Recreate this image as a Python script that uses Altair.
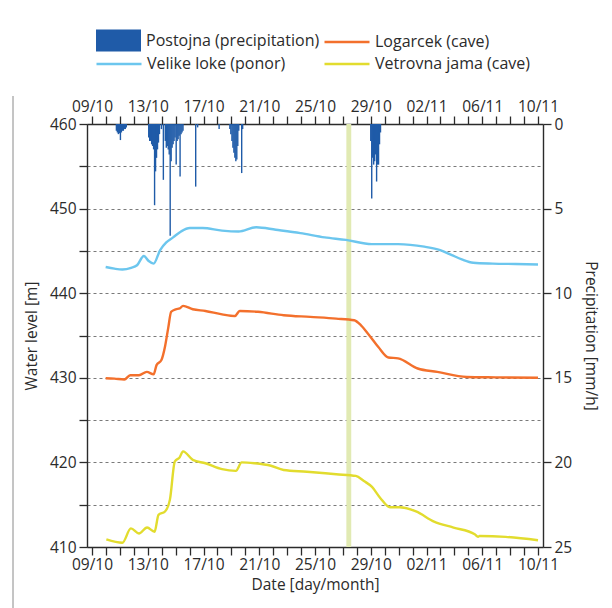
import altair as alt
import pandas as pd

START = "2014-10-09"

# ---- Velike loke (ponor): days since 09/10 00:00 -> water level [m]
vel_days = [0.98, 1.61, 2.18, 2.81, 3.23, 3.72, 4.07, 4.42, 4.89, 5.33, 5.82, 6.39, 7.02, 7.93,
            9.33, 10.51, 11.79, 13.19, 14.95, 16.70, 18.22, 20.07, 21.96, 23.84, 24.98, 25.82,
            26.53, 27.35, 28.75, 30.39, 32.0]
vel_level = [443.1, 442.9, 442.8, 443.0, 443.3, 444.4, 443.8, 443.5, 445.1, 446.0, 446.6, 447.3,
             447.7, 447.7, 447.4, 447.3, 447.8, 447.5, 447.1, 446.6, 446.3, 445.8, 445.8, 445.5,
             445.1, 444.5, 444.0, 443.6, 443.5, 443.45, 443.4]

# ---- Logarcek (cave)
log_days = [0.98, 1.61, 2.32, 2.74, 3.37, 3.93, 4.42, 4.63, 4.98, 5.24, 5.47, 5.68, 6.01, 6.29,
            6.53, 7.23, 8.14, 9.33, 10.25, 10.60, 11.91, 13.75, 15.65, 17.52, 18.81, 19.30,
            19.86, 20.56, 21.26, 21.96, 23.37, 24.77, 26.88, 28.98, 32.0]
log_level = [429.95, 429.9, 429.8, 430.3, 430.3, 430.7, 430.4, 431.5, 432.1, 433.7, 435.9, 437.8,
             438.1, 438.2, 438.5, 438.1, 437.9, 437.5, 437.3, 437.9, 437.8, 437.4, 437.2, 437.0,
             436.8, 436.2, 435.1, 433.6, 432.4, 432.3, 431.1, 430.7, 430.1, 430.05, 430.0]

# ---- Vetrovna jama (cave)
vet_days = [1.03, 2.18, 2.79, 3.37, 3.95, 4.49, 4.77, 5.24, 5.59, 5.94, 6.29, 6.53, 7.23, 8.14,
            9.33, 10.32, 10.74, 11.65, 12.84, 13.75, 15.42, 17.52, 18.93, 19.51, 20.09, 20.68,
            21.38, 22.08, 23.25, 24.54, 25.94, 27.46, 27.70, 27.81, 29.68, 32.0]
vet_level = [410.9, 410.5, 412.2, 411.6, 412.3, 411.8, 413.8, 414.2, 415.6, 420.1, 420.6, 421.3,
             420.3, 419.9, 419.2, 419.0, 420.0, 419.9, 419.6, 419.1, 418.9, 418.6, 418.4, 417.8,
             417.1, 415.8, 414.7, 414.7, 414.2, 413.0, 412.3, 411.5, 411.2, 411.3, 411.2, 410.8]

# ---- Postojna (precipitation) [mm/h]
prec_days = [1.75, 1.82, 1.89, 1.96, 2.04, 2.11, 2.18, 2.25, 2.32, 2.39, 2.46,
             4.07, 4.14, 4.21, 4.28, 4.35, 4.42, 4.49, 4.56, 4.63, 4.70, 4.77, 4.84, 4.98,
             5.12, 5.26, 5.33, 5.40, 5.47, 5.54, 5.61, 5.68, 5.75, 5.82, 5.89, 5.96, 6.04,
             6.11, 6.18, 6.25, 6.32, 6.39, 6.46, 6.53, 7.44, 7.58, 9.12,
             9.89, 9.96, 10.04, 10.11, 10.18, 10.25, 10.32, 10.39, 10.46, 10.53, 10.74, 10.81,
             20.00, 20.07, 20.14, 20.21, 20.28, 20.35, 20.42, 20.49, 20.56, 20.63, 20.70]
prec_vals = [0.4, 0.5, 0.6, 0.55, 0.95, 0.5, 0.4, 0.4, 0.3, 0.3, 0.2,
             0.8, 1.0, 1.0, 1.2, 1.3, 1.5, 4.8, 2.8, 2.0, 1.5, 1.1, 0.6, 0.3,
             3.3, 1.0, 1.4, 1.3, 1.5, 1.8, 6.6, 2.2, 1.4, 1.2, 1.0, 0.8, 2.4,
             1.0, 0.9, 0.7, 3.1, 0.6, 0.5, 0.4, 3.7, 0.2, 0.3,
             0.3, 0.6, 1.0, 1.4, 1.7, 2.0, 2.2, 2.1, 1.3, 0.4, 2.9, 0.3,
             1.0, 4.4, 2.0, 2.4, 2.2, 1.8, 3.4, 2.4, 2.4, 1.2, 0.5]

# highlighted period (days since 09/10)
band_start = [18.25]
band_end = [18.60]

major_labels = ["09/10", "13/10", "17/10", "21/10", "25/10", "29/10", "02/11", "06/11", "10/11"]
level_ticks = [410, 415, 420, 425, 430, 435, 440, 445, 450, 455, 460]
prec_ticks = [0, 5, 10, 15, 20, 25]

NAMES = ["Postojna (precipitation)", "Logarcek (cave)", "Velike loke (ponor)", "Vetrovna jama (cave)"]
COLORS = ["#1f5ba8", "#f3702c", "#6cc6ee", "#e2dc2e"]

FONT = "Open Sans"
TXT = "#2b2b2b"


def to_dt(days):
    idx = pd.Timestamp(START) + pd.to_timedelta(days, unit="D")
    return list(idx.strftime("%Y-%m-%dT%H:%M:%S"))


vel_df = pd.DataFrame({"t": to_dt(vel_days), "level": vel_level, "series": NAMES[2]})
log_df = pd.DataFrame({"t": to_dt(log_days), "level": log_level, "series": NAMES[1]})
vet_df = pd.DataFrame({"t": to_dt(vet_days), "level": vet_level, "series": NAMES[3]})
prec_df = pd.DataFrame({"t": to_dt(prec_days), "p": prec_vals, "series": NAMES[0]})
band_df = pd.DataFrame({"t0": to_dt(band_start), "t1": to_dt(band_end)})

days = pd.date_range("2014-10-09", "2014-11-10", freq="D")
day_ticks = [alt.DateTime(year=int(d.year), month=int(d.month), date=int(d.day)) for d in days]
xscale = alt.Scale(domain=[alt.DateTime(year=2014, month=10, date=9),
                           alt.DateTime(year=2014, month=11, date=10)], nice=False)

label_expr = "indexof([" + ",".join("'%s'" % s for s in major_labels) + "], datum.label) >= 0 ? datum.label : ''"

axis_common = dict(
    domainColor=TXT, domainWidth=1.4, tickColor=TXT, tickWidth=1.3, tickSize=8,
    labelFont=FONT, labelFontSize=15.5, labelColor=TXT, titleFont=FONT, titleFontSize=15.5,
    titleFontWeight="normal", titleColor=TXT,
)

x_bottom = alt.Axis(orient="bottom", values=day_ticks, format="%d/%m", labelExpr=label_expr,
                    labelOverlap=False, labelFlush=False, labelPadding=2, grid=False,
                    title="Date [day/month]", titlePadding=5, **axis_common)
x_top = alt.Axis(orient="top", values=day_ticks, format="%d/%m", labelExpr=label_expr,
                 labelOverlap=False, labelFlush=False, labelPadding=2, grid=False, title=None,
                 **axis_common)

y_left = alt.Axis(orient="left", values=level_ticks, labelExpr="datum.value % 10 == 0 ? datum.label : ''",
                  grid=True, gridDash=[3, 3], gridColor="#7a7a7a", gridWidth=1.2, labelPadding=3,
                  title="Water level [m]", titlePadding=10, **axis_common)
y_right = alt.Axis(orient="right", values=prec_ticks, grid=False, labelPadding=3,
                   title="Precipitation [mm/h]", titlePadding=11, **axis_common)

yscale = alt.Scale(domain=[410, 460], nice=False, zero=False)


def legend(x, y, symbol, stroke_w=None):
    kw = dict(orient="none", legendX=x, legendY=y, title=None, padding=0,
              symbolType=symbol, symbolSize=2025, labelFont=FONT, labelFontSize=16,
              labelColor=TXT, labelOffset=4, labelLimit=400)
    if stroke_w is not None:
        kw["symbolStrokeWidth"] = stroke_w
    return alt.Legend(**kw)


band = alt.Chart(band_df).mark_rect(color="#e1eab3").encode(
    x=alt.X("t0:T", scale=xscale, axis=None),
    x2="t1:T",
)

prec = alt.Chart(prec_df).mark_bar(width=1.4).encode(
    x=alt.X("t:T", scale=xscale, axis=x_top),
    y=alt.Y("p:Q", scale=alt.Scale(domain=[0, 25], reverse=True, nice=False), axis=y_right),
    y2=alt.datum(0),
    color=alt.Color("series:N", scale=alt.Scale(domain=[NAMES[0]], range=[COLORS[0]]),
                    legend=legend(8, -107, "M-1,-0.49H1V0.49H-1Z")),
)


def line_layer(df, idx, lx, ly, axis_x, axis_y):
    return alt.Chart(df).mark_line(strokeWidth=2.4, interpolate="monotone").encode(
        x=alt.X("t:T", scale=xscale, axis=axis_x),
        y=alt.Y("level:Q", scale=yscale, axis=axis_y),
        color=alt.Color("series:N", scale=alt.Scale(domain=[NAMES[idx]], range=[COLORS[idx]]),
                        legend=legend(lx, ly, "stroke", 2.5)),
    )


vel = line_layer(vel_df, 2, 8, -84, x_bottom, y_left)
log = line_layer(log_df, 1, 236, -106, None, None)
vet = line_layer(vet_df, 3, 236, -84, None, None)

frame = alt.Chart(pd.DataFrame({"a": [0]})).mark_rule(color="#8a8a8a", strokeWidth=1).encode(
    x=alt.value(-74), y=alt.value(-28), y2=alt.value(484)
)

chart = alt.layer(band, prec, vel, log, vet, frame).resolve_scale(
    y="independent", color="independent"
).resolve_axis(x="independent", y="independent").resolve_legend(color="independent").properties(
    width=456, height=423,
    padding={"left": 87, "top": 124, "right": 69, "bottom": 61},
    autosize=alt.AutoSizeParams(type="none"),
).configure_view(stroke=None).configure(background="white")

chart.save("out.html", embed_options={"renderer": "svg", "actions": False})
